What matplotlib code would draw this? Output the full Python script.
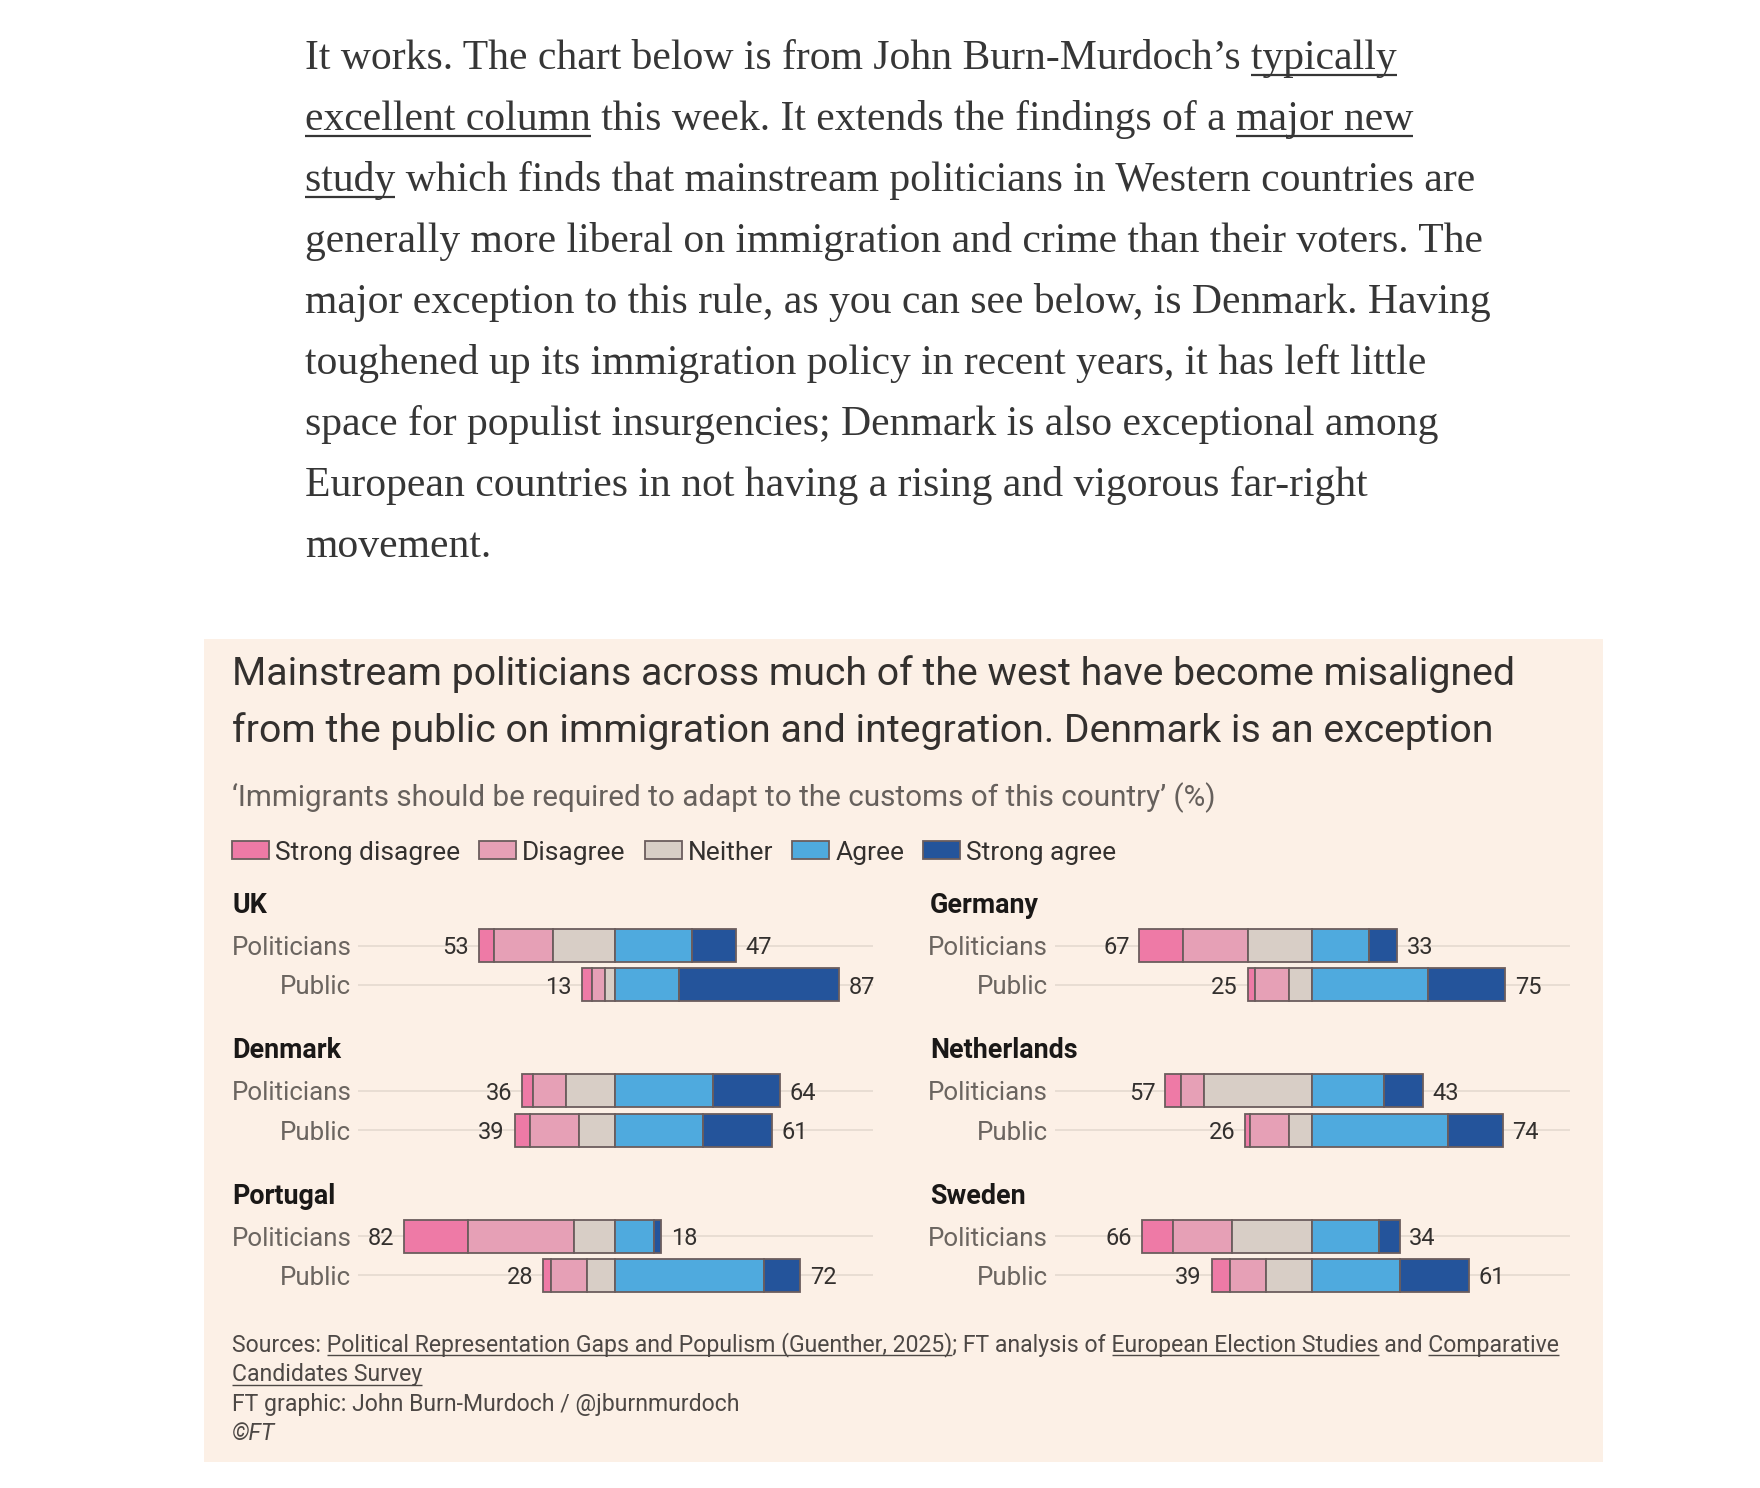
import matplotlib.pyplot as plt
from matplotlib.patches import Rectangle

W, H = 1760, 1488

categories = ['Strong disagree', 'Disagree', 'Neither', 'Agree', 'Strong agree']
colors = ['#ee7aa6', '#e6a0b6', '#d8cec6', '#4faade', '#24549b']
groups = ['Politicians', 'Public']
countries = ['UK', 'Germany', 'Denmark', 'Netherlands', 'Portugal', 'Sweden']

# share of each answer, [politicians, public], order as in categories (%)
uk = [[6, 23, 24, 30, 17], [4, 5, 4, 25, 62]]
germany = [[17, 25, 25, 22, 11], [3, 13, 9, 45, 30]]
denmark = [[4, 13, 19, 38, 26], [6, 19, 14, 34, 27]]
netherlands = [[6, 9, 42, 28, 15], [2, 15, 9, 53, 21]]
portugal = [[25, 41, 16, 15, 3], [3, 14, 11, 58, 14]]
sweden = [[12, 23, 31, 26, 8], [7, 14, 18, 34, 27]]
values = [uk, germany, denmark, netherlands, portugal, sweden]

paragraph = [
    'It works. The chart below is from John Burn-Murdoch\u2019s typically',
    'excellent column this week. It extends the findings of a major new',
    'study which finds that mainstream politicians in Western countries are',
    'generally more liberal on immigration and crime than their voters. The',
    'major exception to this rule, as you can see below, is Denmark. Having',
    'toughened up its immigration policy in recent years, it has left little',
    'space for populist insurgencies; Denmark is also exceptional among',
    'European countries in not having a rising and vigorous far-right',
    'movement.',
]
paragraph_links = [['typically'], ['excellent column', 'major new'], ['study'],
                   [], [], [], [], [], []]

title = ['Mainstream politicians across much of the west have become misaligned',
         'from the public on immigration and integration. Denmark is an exception']
subtitle = '\u2018Immigrants should be required to adapt to the customs of this country\u2019 (%)'
sources = [
    'Sources: Political Representation Gaps and Populism (Guenther, 2025); FT analysis of '
    'European Election Studies and Comparative',
    'Candidates Survey',
    'FT graphic: John Burn-Murdoch / @jburnmurdoch',
]
source_links = [['Political Representation Gaps and Populism (Guenther, 2025)',
                 'European Election Studies', 'Comparative'],
                ['Candidates Survey'], []]

SANS = 'Roboto'
SERIF = 'Liberation Serif'
edge = '#6b5d5d'

fig = plt.figure(figsize=(W / 100, H / 100), dpi=100)
fig.patch.set_facecolor('white')
bg = fig.add_axes([0, 0, 1, 1])
bg.set_xlim(0, W)
bg.set_ylim(H, 0)
bg.axis('off')
fig.canvas.draw()
renderer = fig.canvas.get_renderer()


def text_width(s, **kw):
    t = bg.text(0, 0, s, **kw)
    w = t.get_window_extent(renderer).width
    t.remove()
    return w


def line_with_links(x, y, s, links, color, off, lw, **kw):
    bg.text(x, y, s, color=color, va='baseline', **kw)
    for word in links:
        end = text_width(s[:s.index(word) + len(word)], **kw)
        w = text_width(word, **kw)
        bg.plot([x + end - w, x + end], [y + off, y + off], color=color, lw=lw,
                solid_capstyle='butt')


# intro paragraph
for i, (s, links) in enumerate(zip(paragraph, paragraph_links)):
    line_with_links(305, 69 + 61 * i, s, links, '#363636', 6, 1.6,
                    family=SERIF, fontsize=30)

# chart panel background
bg.add_patch(Rectangle((204, 639), 1399, 823, facecolor='#fcf0e6', edgecolor='none'))

for i, s in enumerate(title):
    bg.text(232, 685 + 57 * i, s, family=SANS, fontsize=28.3, color='#33302e',
            va='baseline')
bg.text(232, 806, subtitle, family=SANS, fontsize=21.3, color='#66605c', va='baseline')

# legend
x = 232
for cat, c in zip(categories, colors):
    bg.add_patch(Rectangle((x, 841), 37, 18, facecolor=c, edgecolor=edge, lw=1.3))
    bg.text(x + 43, 860, cat, family=SANS, fontsize=19, color='#33302e', va='baseline')
    x += 43 + text_width(cat, family=SANS, fontsize=19) + 19

# small multiples
px_per_pct = 2.575
row_px = 39.3
for i, (name, data) in enumerate(zip(countries, values)):
    col, row = i % 2, i // 2
    center = 615 if col == 0 else 1312
    y0 = 945.5 + 145.3 * row
    left = center - 100 * px_per_pct
    top = y0 - 0.6 * row_px
    h = 2.2 * row_px
    ax = fig.add_axes([left / W, 1 - (top + h) / H, 200 * px_per_pct / W, h / H])
    ax.set_xlim(-100, 100)
    ax.set_ylim(1.6, -0.6)
    ax.patch.set_visible(False)
    for sp in ax.spines.values():
        sp.set_visible(False)
    ax.set_xticks([])
    ax.set_yticks([0, 1], groups)
    ax.tick_params(axis='y', length=0, pad=4.5, labelsize=18.6, labelcolor='#6b6560')
    for lab in ax.get_yticklabels():
        lab.set_family(SANS)

    for j, shares in enumerate(data):
        ax.axhline(j, color='#e6dbd1', lw=1.3, zorder=0)
        neg = sum(shares[:3])
        pos = sum(shares[3:])
        start = -neg
        for v, c in zip(shares, colors):
            ax.barh(j, v, left=start, height=0.84, color=c, edgecolor=edge, lw=1.3,
                    zorder=2)
            start += v
        ax.annotate(str(neg), (-neg, j), xytext=(-7, 0), textcoords='offset points',
                    ha='right', va='center_baseline', family=SANS, fontsize=17,
                    color='#33302e')
        ax.annotate(str(pos), (pos, j), xytext=(7, 0), textcoords='offset points',
                    ha='left', va='center_baseline', family=SANS, fontsize=17,
                    color='#33302e')

    hx = 232 if col == 0 else 930
    bg.text(hx, y0 - 32.5, name, family=SANS, fontsize=19.4, fontweight='bold',
            color='#1a1817', va='baseline')

# footer
for i, (s, links) in enumerate(zip(sources, source_links)):
    line_with_links(232, 1351 + 30 * i, s, links, '#4d4845', 4, 1.0,
                    family=SANS, fontsize=16.6)
bg.text(232, 1440, '\u00a9FT', family=SANS, fontsize=16.6, style='italic',
        color='#4d4845', va='baseline')

fig.savefig('out.png', dpi=100, facecolor='white')
